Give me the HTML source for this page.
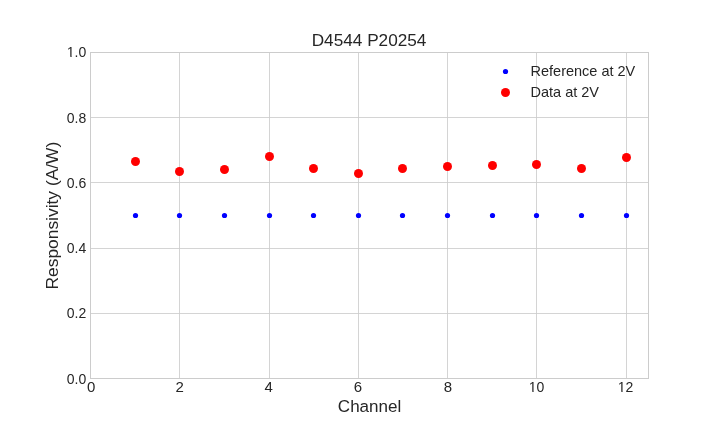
<!DOCTYPE html>
<html><head><meta charset="utf-8"><title>D4544 P20254</title>
<style>
html,body{margin:0;padding:0;background:#ffffff;width:720px;height:432px;overflow:hidden;}
svg{display:block;}
</style></head>
<body>
<svg width="720" height="432" viewBox="0 0 720 432">
<rect x="0" y="0" width="720" height="432" fill="#ffffff"/>
<g shape-rendering="crispEdges"><rect x="179" y="52" width="1" height="327" fill="#d4d4d4"/><rect x="269" y="52" width="1" height="327" fill="#d4d4d4"/><rect x="358" y="52" width="1" height="327" fill="#d4d4d4"/><rect x="447" y="52" width="1" height="327" fill="#d4d4d4"/><rect x="536" y="52" width="1" height="327" fill="#d4d4d4"/><rect x="626" y="52" width="1" height="327" fill="#d4d4d4"/><rect x="90" y="117" width="559" height="1" fill="#d4d4d4"/><rect x="90" y="182" width="559" height="1" fill="#d4d4d4"/><rect x="90" y="248" width="559" height="1" fill="#d4d4d4"/><rect x="90" y="313" width="559" height="1" fill="#d4d4d4"/><rect x="179" y="117" width="1" height="1" fill="#cdcdcd"/><rect x="179" y="182" width="1" height="1" fill="#cdcdcd"/><rect x="179" y="248" width="1" height="1" fill="#cdcdcd"/><rect x="179" y="313" width="1" height="1" fill="#cdcdcd"/><rect x="269" y="117" width="1" height="1" fill="#cdcdcd"/><rect x="269" y="182" width="1" height="1" fill="#cdcdcd"/><rect x="269" y="248" width="1" height="1" fill="#cdcdcd"/><rect x="269" y="313" width="1" height="1" fill="#cdcdcd"/><rect x="358" y="117" width="1" height="1" fill="#cdcdcd"/><rect x="358" y="182" width="1" height="1" fill="#cdcdcd"/><rect x="358" y="248" width="1" height="1" fill="#cdcdcd"/><rect x="358" y="313" width="1" height="1" fill="#cdcdcd"/><rect x="447" y="117" width="1" height="1" fill="#cdcdcd"/><rect x="447" y="182" width="1" height="1" fill="#cdcdcd"/><rect x="447" y="248" width="1" height="1" fill="#cdcdcd"/><rect x="447" y="313" width="1" height="1" fill="#cdcdcd"/><rect x="536" y="117" width="1" height="1" fill="#cdcdcd"/><rect x="536" y="182" width="1" height="1" fill="#cdcdcd"/><rect x="536" y="248" width="1" height="1" fill="#cdcdcd"/><rect x="536" y="313" width="1" height="1" fill="#cdcdcd"/><rect x="626" y="117" width="1" height="1" fill="#cdcdcd"/><rect x="626" y="182" width="1" height="1" fill="#cdcdcd"/><rect x="626" y="248" width="1" height="1" fill="#cdcdcd"/><rect x="626" y="313" width="1" height="1" fill="#cdcdcd"/><rect x="90" y="52" width="1" height="327" fill="#cccccc"/><rect x="648" y="52" width="1" height="327" fill="#cccccc"/><rect x="90" y="52" width="559" height="1" fill="#cccccc"/><rect x="90" y="378" width="559" height="1" fill="#cccccc"/></g>
<circle cx="135.5" cy="215.5" r="2.6" fill="#0000ff"/>
<circle cx="179.5" cy="215.5" r="2.6" fill="#0000ff"/>
<circle cx="224.5" cy="215.5" r="2.6" fill="#0000ff"/>
<circle cx="269.5" cy="215.5" r="2.6" fill="#0000ff"/>
<circle cx="313.5" cy="215.5" r="2.6" fill="#0000ff"/>
<circle cx="358.5" cy="215.5" r="2.6" fill="#0000ff"/>
<circle cx="402.5" cy="215.5" r="2.6" fill="#0000ff"/>
<circle cx="447.5" cy="215.5" r="2.6" fill="#0000ff"/>
<circle cx="492.5" cy="215.5" r="2.6" fill="#0000ff"/>
<circle cx="536.5" cy="215.5" r="2.6" fill="#0000ff"/>
<circle cx="581.5" cy="215.5" r="2.6" fill="#0000ff"/>
<circle cx="626.5" cy="215.5" r="2.6" fill="#0000ff"/>
<circle cx="135.5" cy="161.5" r="4.5" fill="#ff0000"/>
<circle cx="179.5" cy="171.5" r="4.5" fill="#ff0000"/>
<circle cx="224.5" cy="169.5" r="4.5" fill="#ff0000"/>
<circle cx="269.5" cy="156.5" r="4.5" fill="#ff0000"/>
<circle cx="313.5" cy="168.5" r="4.5" fill="#ff0000"/>
<circle cx="358.5" cy="173.5" r="4.5" fill="#ff0000"/>
<circle cx="402.5" cy="168.5" r="4.5" fill="#ff0000"/>
<circle cx="447.5" cy="166.5" r="4.5" fill="#ff0000"/>
<circle cx="492.5" cy="165.5" r="4.5" fill="#ff0000"/>
<circle cx="536.5" cy="164.5" r="4.5" fill="#ff0000"/>
<circle cx="581.5" cy="168.5" r="4.5" fill="#ff0000"/>
<circle cx="626.5" cy="157.5" r="4.5" fill="#ff0000"/>
<g transform="translate(86.3 57)"><text x="0" y="0" font-family="'Liberation Sans', Arial, sans-serif" font-size="14" fill="#262626" text-anchor="end">1.0</text></g><g shape-rendering="crispEdges"><rect x="67" y="56" width="3" height="1" fill="#ffffff"/><rect x="72" y="56" width="2" height="1" fill="#ffffff"/><rect x="70" y="56" width="1" height="1" fill="#ffffff" fill-opacity="0.359"/><rect x="71" y="56" width="1" height="1" fill="#ffffff" fill-opacity="0.404"/></g>
<g transform="translate(86.3 123)"><text x="0" y="0" font-family="'Liberation Sans', Arial, sans-serif" font-size="14" fill="#262626" text-anchor="end">0.8</text></g>
<g transform="translate(86.3 188)"><text x="0" y="0" font-family="'Liberation Sans', Arial, sans-serif" font-size="14" fill="#262626" text-anchor="end">0.6</text></g>
<g transform="translate(86.3 253)"><text x="0" y="0" font-family="'Liberation Sans', Arial, sans-serif" font-size="14" fill="#262626" text-anchor="end">0.4</text></g>
<g transform="translate(86.3 318)"><text x="0" y="0" font-family="'Liberation Sans', Arial, sans-serif" font-size="14" fill="#262626" text-anchor="end">0.2</text></g>
<g transform="translate(86.3 384)"><text x="0" y="0" font-family="'Liberation Sans', Arial, sans-serif" font-size="14" fill="#262626" text-anchor="end">0.0</text></g>
<g transform="translate(91.05 392)"><text x="0" y="0" font-family="'Liberation Sans', Arial, sans-serif" font-size="15" fill="#262626" text-anchor="middle">0</text></g>
<g transform="translate(179.72 392)"><text x="0" y="0" font-family="'Liberation Sans', Arial, sans-serif" font-size="15" fill="#262626" text-anchor="middle">2</text></g>
<g transform="translate(268.65 392)"><text x="0" y="0" font-family="'Liberation Sans', Arial, sans-serif" font-size="15" fill="#262626" text-anchor="middle">4</text></g>
<g transform="translate(357.9 392)"><text x="0" y="0" font-family="'Liberation Sans', Arial, sans-serif" font-size="15" fill="#262626" text-anchor="middle">6</text></g>
<g transform="translate(448 392)"><text x="0" y="0" font-family="'Liberation Sans', Arial, sans-serif" font-size="15" fill="#262626" text-anchor="middle">8</text></g>
<g transform="translate(536.6 392)"><text x="0" y="0" font-family="'Liberation Sans', Arial, sans-serif" font-size="14" fill="#262626" text-anchor="middle">10</text></g><g shape-rendering="crispEdges"><rect x="529" y="391" width="3" height="1" fill="#ffffff"/><rect x="534" y="391" width="2" height="1" fill="#ffffff"/><rect x="532" y="391" width="1" height="1" fill="#ffffff" fill-opacity="0.334"/><rect x="533" y="391" width="1" height="1" fill="#ffffff" fill-opacity="0.428"/></g>
<g transform="translate(625.6 392)"><text x="0" y="0" font-family="'Liberation Sans', Arial, sans-serif" font-size="14" fill="#262626" text-anchor="middle">12</text></g><g shape-rendering="crispEdges"><rect x="618" y="391" width="3" height="1" fill="#ffffff"/><rect x="623" y="391" width="2" height="1" fill="#ffffff"/><rect x="621" y="391" width="1" height="1" fill="#ffffff" fill-opacity="0.334"/><rect x="622" y="391" width="1" height="1" fill="#ffffff" fill-opacity="0.428"/></g>
<g transform="translate(369.05 46)"><text x="0" y="0" font-family="'Liberation Sans', Arial, sans-serif" font-size="17.2" fill="#262626" text-anchor="middle">D4544 P20254</text></g>
<g transform="translate(369.55 412)"><text x="0" y="0" font-family="'Liberation Sans', Arial, sans-serif" font-size="17.05" fill="#262626" text-anchor="middle">Channel</text></g>
<g transform="translate(57.5 215.6) rotate(-90)"><text x="0" y="0" font-family="'Liberation Sans', Arial, sans-serif" font-size="17.4" fill="#262626" text-anchor="middle">Responsivity (A/W)</text></g>
<g transform="translate(530.5 76)"><text x="0" y="0" font-family="'Liberation Sans', Arial, sans-serif" font-size="14.5" fill="#262626" text-anchor="start">Reference at 2V</text></g>
<g transform="translate(530.5 97)"><text x="0" y="0" font-family="'Liberation Sans', Arial, sans-serif" font-size="14.5" fill="#262626" text-anchor="start">Data at 2V</text></g>
<circle cx="505.5" cy="71.5" r="2.6" fill="#0000ff"/>
<circle cx="505.5" cy="92.5" r="4.5" fill="#ff0000"/>
</svg>
</body></html>
